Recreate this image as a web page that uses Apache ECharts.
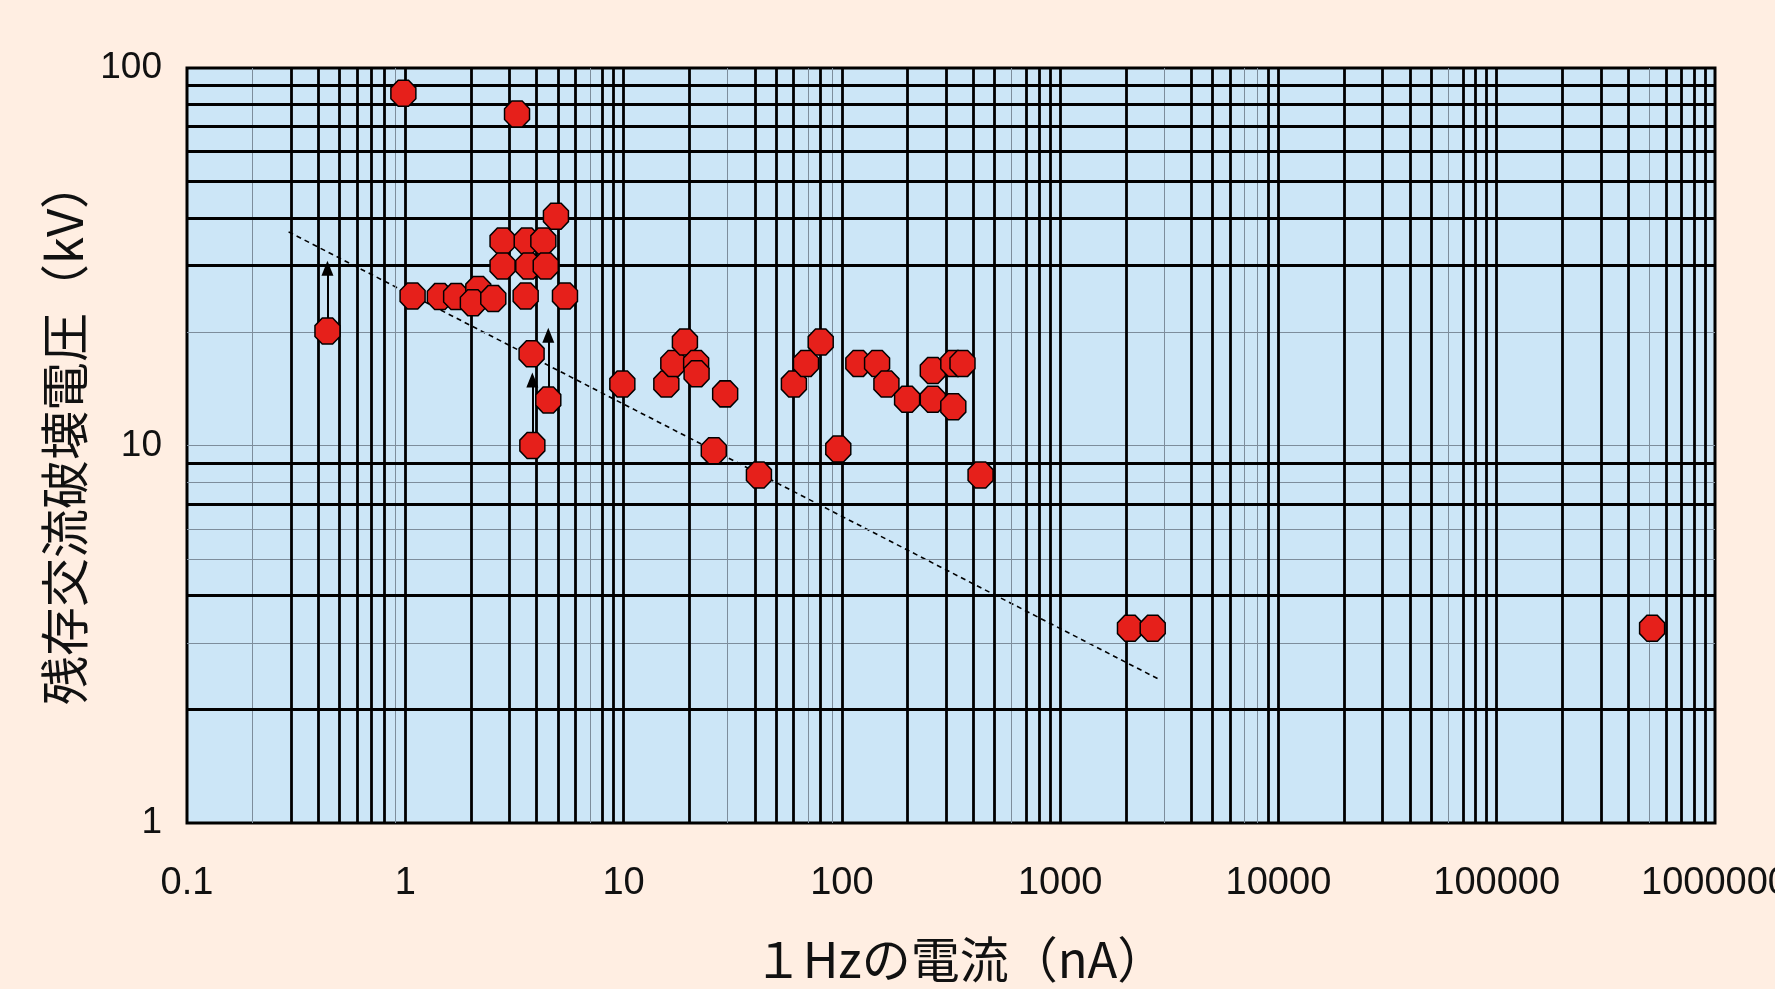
<!DOCTYPE html>
<html>
<head>
<meta charset="utf-8">
<script src="https://cdn.jsdelivr.net/npm/echarts@6/dist/echarts.min.js"></script>
<style>
  html, body { margin: 0; padding: 0; background: #FFEEE2; }
  #main { width: 1775px; height: 989px; }
</style>
</head>
<body>
<div id="main"></div>
<script>
// 1Hzの電流 (nA) / 残存交流破壊電圧 (kV)
var currentNA = [0.44, 0.98, 3.25, 1.08, 1.44, 1.71, 2.16, 2.04, 2.53, 3.56, 5.39,
  2.79, 3.60, 4.29, 2.79, 3.66, 4.40, 4.90, 3.79, 4.52, 3.82,
  9.87, 15.7, 16.9, 19.1, 21.5, 21.6, 29.2, 25.9, 41.7,
  60.3, 68.5, 80.0, 96.3, 119, 145, 160, 199, 261, 261, 324, 357, 324, 432,
  2089, 2655, 515000];
var voltageKV = [20.1, 85.7, 75.5, 24.9, 24.8, 24.8, 25.9, 23.9, 24.5, 24.9, 24.9,
  34.8, 34.8, 34.8, 29.9, 29.9, 29.9, 40.5, 17.5, 13.2, 10.0,
  14.55, 14.55, 16.5, 18.8, 16.5, 15.5, 13.7, 9.69, 8.35,
  14.55, 16.5, 18.8, 9.79, 16.5, 16.5, 14.55, 13.26, 15.8, 13.26, 16.5, 16.5, 12.67, 8.35,
  3.28, 3.28, 3.28];

// 下限値の矢印 (from -> to)
var arrowX = [0.44, 3.82, 4.52];
var arrowFrom = [20.1, 10.0, 13.2];
var arrowTo = [29.5, 14.9, 19.6];

// 破線 (近似線)
var trendX = [0.292, 2806];
var trendY = [36.8, 2.41];

// 罫線
var xGridBold = [0.3, 0.4, 0.5, 0.6, 0.7, 0.8, 1, 2, 3, 4, 5, 6, 8, 9, 10, 20, 40, 50, 60, 80,
  100, 200, 300, 400, 500, 700, 800, 900, 1000, 2000, 4000, 5000, 6000, 9000,
  10000, 20000, 30000, 40000, 50000, 70000, 80000, 90000,
  100000, 200000, 300000, 400000, 600000, 700000, 800000, 900000];
var xGridThin = [0.2, 0.9, 7, 30, 70, 90, 600, 3000, 7000, 8000, 60000, 500000];
var yGridBold = [2, 4, 7, 9, 30, 40, 50, 60, 70, 80, 90];
var yGridThin = [3, 5, 6, 8, 10, 20];

function zip(a, b) {
  var out = [];
  for (var i = 0; i < a.length; i++) out.push([a[i], b[i]]);
  return out;
}
function vlines(vals) { return vals.map(function (v) { return { xAxis: v }; }); }
function hlines(vals) { return vals.map(function (v) { return { yAxis: v }; }); }
function gridSeries(data, color, width) {
  return {
    type: 'line', data: [], z: 1, silent: true,
    markLine: {
      silent: true, animation: false, symbol: ['none', 'none'],
      label: { show: false },
      lineStyle: { color: color, width: width, type: 'solid' },
      emphasis: { disabled: true },
      data: data
    }
  };
}
function fmt(v) { return String(+(+v).toPrecision(6)); }

var arrows = [];
for (var i = 0; i < arrowX.length; i++) {
  arrows.push([{ coord: [arrowX[i], arrowFrom[i]] }, { coord: [arrowX[i], arrowTo[i]] }]);
}

var chart = echarts.init(document.getElementById('main'));
chart.setOption({
  backgroundColor: '#FFEEE2',
  animation: false,
  grid: {
    left: 187, right: 60, top: 68, bottom: 166,
    containLabel: false, outerBoundsMode: 'none',
    show: true, backgroundColor: '#CCE6F7', borderColor: '#000', borderWidth: 3
  },
  xAxis: {
    type: 'log', logBase: 10, min: 0.1, max: 1000000,
    name: '１Hzの電流（nA）', nameLocation: 'middle', nameGap: 112,
    nameTextStyle: { fontFamily: 'Noto Sans CJK JP', fontSize: 49, color: '#111', padding: [0, 0, 0, 18] },
    axisLine: { show: false }, axisTick: { show: false }, splitLine: { show: false },
    axisLabel: {
      margin: 42, formatter: fmt, color: '#111',
      fontFamily: 'Liberation Sans Narrow, Liberation Sans', fontSize: 38
    }
  },
  yAxis: {
    type: 'log', logBase: 10, min: 1, max: 100,
    name: '残存交流破壊電圧（kV）', nameLocation: 'middle', nameGap: 85, nameRotate: 90,
    nameTextStyle: { fontFamily: 'Noto Sans CJK JP', fontSize: 49, color: '#111', padding: [0, 0, 0, 26] },
    axisLine: { show: false }, axisTick: { show: false }, splitLine: { show: false },
    axisLabel: {
      margin: 25, formatter: fmt, color: '#111',
      fontFamily: 'Liberation Sans', fontSize: 37
    }
  },
  series: [
    gridSeries(vlines(xGridThin), '#7d8d9c', 1),
    gridSeries(hlines(yGridThin), '#7d8d9c', 1.2),
    gridSeries(vlines(xGridBold), '#000', 2.8),
    gridSeries(hlines(yGridBold), '#000', 3),
    {
      type: 'line', data: zip(trendX, trendY), z: 2, silent: true,
      showSymbol: false, symbol: 'none',
      lineStyle: { color: '#000', width: 1.6, type: [5, 4] }
    },
    {
      type: 'line', data: [], z: 2, silent: true,
      markLine: {
        silent: true, animation: false,
        symbol: ['none', 'triangle'], symbolSize: [12, 15],
        label: { show: false },
        lineStyle: { color: '#000', width: 2, type: 'solid' },
        data: arrows
      }
    },
    {
      type: 'scatter', z: 5,
      data: zip(currentNA, voltageKV),
      symbol: 'path://M29.3,0 L70.7,0 L100,29.3 L100,70.7 L70.7,100 L29.3,100 L0,70.7 L0,29.3 Z',
      symbolSize: [25, 26],
      itemStyle: { color: '#E6201B', borderColor: '#000', borderWidth: 1.5, opacity: 1 }
    }
  ]
});
</script>
</body>
</html>
